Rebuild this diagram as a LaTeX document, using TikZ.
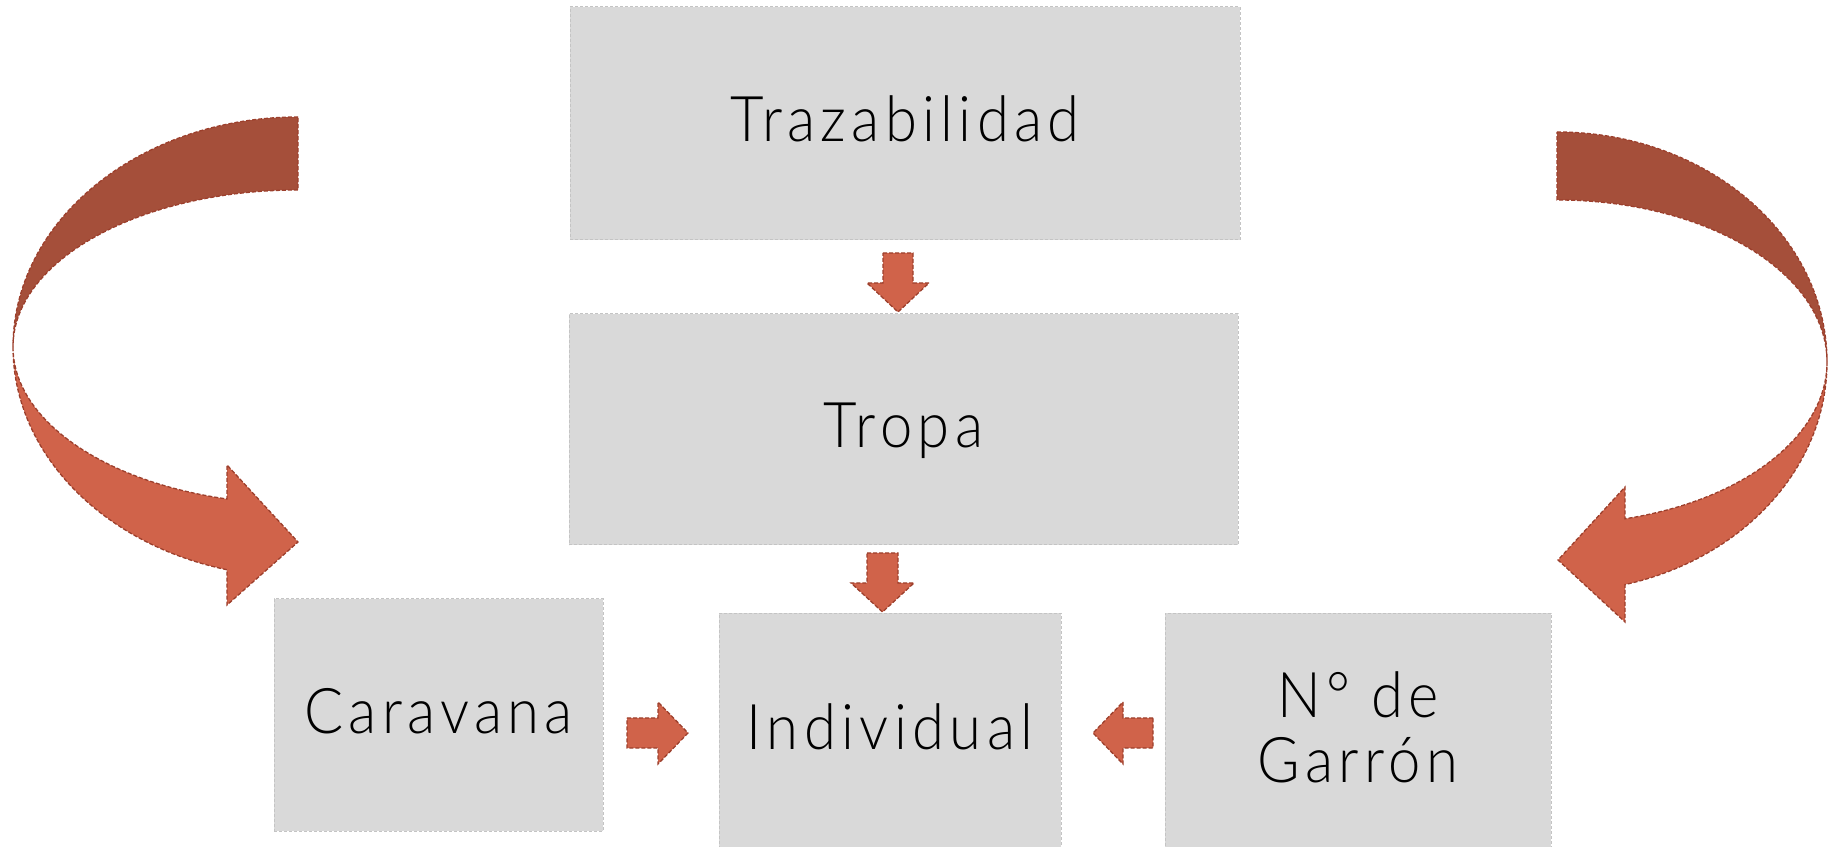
\documentclass[tikz,border=0pt]{standalone}
\usepackage{fontspec}
\setmainfont{Lato Light}[FakeStretch=0.92, LetterSpace=8.5]
\definecolor{boxfill}{HTML}{D9D9D9}
\definecolor{boxline}{HTML}{C4C4C4}
\definecolor{arrlight}{HTML}{D0634A}
\definecolor{arrdark}{HTML}{A54F3A}
\definecolor{arrline}{HTML}{9C3F2C}
\tikzset{
  box/.style={rectangle, fill=boxfill, draw=boxline, line width=1pt,
    dash pattern=on 3pt off 2pt, inner sep=0pt, align=center,
    font=\fontsize{63}{65}\selectfont},
  oneline/.style={text height=45pt, text depth=8pt},
  blockarrow/.style={fill=arrlight, draw=arrline, line width=1.3pt,
    dash pattern=on 4pt off 2pt, line join=miter},
  bandarrow/.style={draw=arrline, line width=1.3pt, dash pattern=on 4pt off 2pt}
}
\begin{document}
\begin{tikzpicture}[x=1pt,y=1pt]
\useasboundingbox (0,0) rectangle (1833,846);
% boxes
\node[box, oneline, minimum width=670pt, minimum height=233pt] (traz) at (905,722.5) {Trazabilidad};
\node[box, oneline, minimum width=669pt, minimum height=231pt] (tropa) at (903.5,416.5) {Tropa};
\node[box, oneline, minimum width=329pt, minimum height=232pt] (cara) at (438.5,131) {Caravana};
\node[box, oneline, minimum width=342pt, minimum height=234pt] (indiv) at (890,115.5) {Individual};
\node[box, text depth=7pt, minimum width=386pt, minimum height=234pt] (garron) at (1358,115.5) {N° de\\Garrón};
% small block arrows
\draw[blockarrow] (883,593) -- (913,593) -- (913,563) -- (929,563) -- (898,534) -- (867,563) -- (883,563) -- cycle;
\draw[blockarrow] (867,293) -- (898,293) -- (898,263) -- (914,263) -- (882.5,234) -- (851,263) -- (867,263) -- cycle;
\draw[blockarrow] (627,128) -- (658,128) -- (658,144) -- (688,113) -- (658,82) -- (658,98) -- (627,98) -- cycle;
\draw[blockarrow] (1153,128) -- (1123,128) -- (1123,144) -- (1093,113) -- (1123,82) -- (1123,98) -- (1153,98) -- cycle;
% left curved arrow
\fill[arrdark] (298,729) arc[start angle=90, end angle=180, x radius=285pt, y radius=230pt]
  arc[start angle=180, end angle=90, x radius=285pt, y radius=157pt] -- cycle;
\draw[bandarrow] (298,729) arc[start angle=90, end angle=180, x radius=285pt, y radius=230pt]
  arc[start angle=180, end angle=90, x radius=285pt, y radius=157pt] -- cycle;
\fill[arrlight] (13,499) arc[start angle=180, end angle=255.57, x radius=285pt, y radius=230pt]
  -- (227,241) -- (298,304) -- (227,381) -- (227,347)
  arc[start angle=255.57, end angle=180, x radius=285pt, y radius=157pt] -- cycle;
\draw[bandarrow] (13,499) arc[start angle=180, end angle=255.57, x radius=285pt, y radius=230pt]
  -- (227,241) -- (298,304) -- (227,381) -- (227,347)
  arc[start angle=255.57, end angle=180, x radius=285pt, y radius=157pt] -- cycle;
% right curved arrow
\fill[arrdark] (1557,714) arc[start angle=90, end angle=0, x radius=270pt, y radius=230pt]
  arc[start angle=0, end angle=90, x radius=270pt, y radius=162pt] -- cycle;
\draw[bandarrow] (1557,714) arc[start angle=90, end angle=0, x radius=270pt, y radius=230pt]
  arc[start angle=0, end angle=90, x radius=270pt, y radius=162pt] -- cycle;
\fill[arrlight] (1827,484) arc[start angle=360, end angle=284.59, x radius=270pt, y radius=230pt]
  -- (1625,224) -- (1558,286) -- (1625,359) -- (1625,327.2)
  arc[start angle=284.59, end angle=360, x radius=270pt, y radius=162pt] -- cycle;
\draw[bandarrow] (1827,484) arc[start angle=360, end angle=284.59, x radius=270pt, y radius=230pt]
  -- (1625,224) -- (1558,286) -- (1625,359) -- (1625,327.2)
  arc[start angle=284.59, end angle=360, x radius=270pt, y radius=162pt] -- cycle;
\end{tikzpicture}
\end{document}
